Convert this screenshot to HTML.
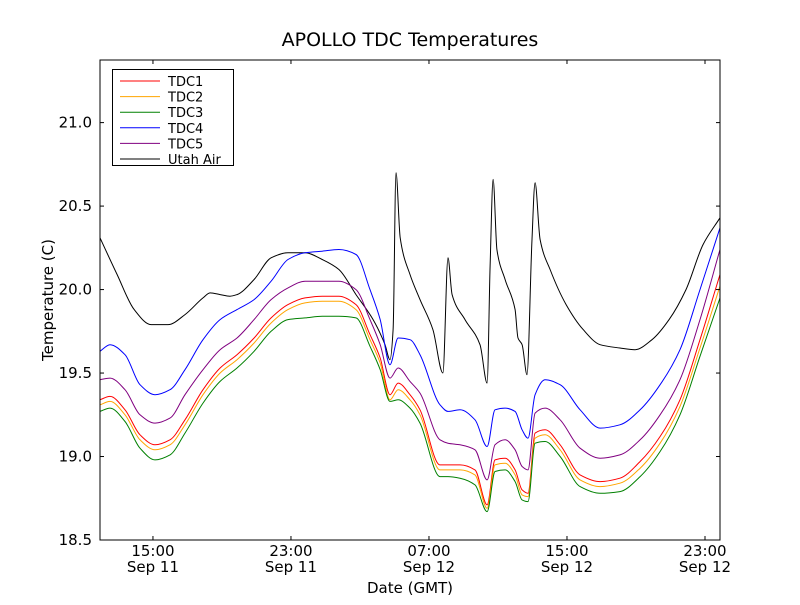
<!DOCTYPE html>
<html><head><meta charset="utf-8"><style>
body{margin:0;background:#fff;width:800px;height:600px;overflow:hidden;font-family:"Liberation Sans","DejaVu Sans",sans-serif}
</style></head><body>
<svg id="chart" width="800" height="600" xmlns="http://www.w3.org/2000/svg" font-family="DejaVu Sans, Liberation Sans, sans-serif">
<rect width="800" height="600" fill="#fff"/>
<text x="410" y="46" text-anchor="middle" font-size="19">APOLLO TDC Temperatures</text>
<text x="410" y="593" text-anchor="middle" font-size="15">Date (GMT)</text>
<text transform="translate(53,300) rotate(-90)" text-anchor="middle" font-size="15">Temperature (C)</text>
<g id="series"></g>
<g id="axes"></g>
<g id="legend"></g>
</svg>
<script>
const tdcTimes=[11.93,12.51,13.38,14.25,15.12,15.99,16.86,17.90,18.89,19.87,20.86,21.85,22.83,23.82,24.81,25.78,26.77,27.58,28.17,28.74,29.21,29.90,30.48,31.64,32.10,32.80,33.67,34.37,34.83,35.41,35.99,36.40,36.74,37.15,37.73,38.60,39.76,40.92,42.07,43.24,44.40,45.55,46.71,47.87];
const tdc1=[19.34,19.36,19.28,19.13,19.07,19.10,19.22,19.40,19.53,19.61,19.71,19.83,19.91,19.95,19.96,19.96,19.91,19.73,19.59,19.37,19.44,19.37,19.28,18.95,18.95,18.95,18.92,18.71,18.98,18.99,18.92,18.80,18.78,19.14,19.16,19.07,18.89,18.85,18.87,18.97,19.12,19.34,19.70,20.09];
const tdc2=[19.31,19.33,19.25,19.10,19.04,19.07,19.19,19.37,19.50,19.58,19.68,19.80,19.88,19.92,19.93,19.93,19.88,19.70,19.56,19.34,19.40,19.34,19.25,18.92,18.92,18.92,18.89,18.69,18.95,18.96,18.89,18.77,18.76,19.11,19.13,19.04,18.86,18.82,18.84,18.93,19.08,19.30,19.65,20.02];
const tdc3=[19.27,19.29,19.21,19.05,18.98,19.01,19.14,19.32,19.45,19.53,19.63,19.75,19.82,19.83,19.84,19.84,19.83,19.66,19.52,19.33,19.34,19.29,19.20,18.88,18.88,18.87,18.83,18.67,18.91,18.92,18.85,18.74,18.73,19.08,19.09,19.00,18.82,18.78,18.79,18.88,19.03,19.25,19.60,19.95];
const tdc4=[19.63,19.67,19.61,19.43,19.37,19.40,19.52,19.70,19.82,19.88,19.94,20.05,20.18,20.22,20.23,20.24,20.21,20.00,19.82,19.55,19.71,19.70,19.61,19.31,19.27,19.28,19.22,19.06,19.28,19.29,19.27,19.16,19.11,19.37,19.46,19.43,19.28,19.17,19.19,19.28,19.43,19.64,20.00,20.37];
const tdc5=[19.46,19.47,19.40,19.25,19.20,19.23,19.37,19.52,19.64,19.71,19.82,19.94,20.01,20.05,20.05,20.05,20.00,19.82,19.67,19.47,19.53,19.45,19.38,19.10,19.08,19.07,19.04,18.86,19.07,19.10,19.04,18.94,18.92,19.26,19.29,19.22,19.05,18.99,19.01,19.10,19.25,19.46,19.82,20.24];
const airTimes=[11.93,12.92,13.91,14.89,15.87,16.86,17.90,18.31,18.89,19.46,19.87,20.86,21.85,22.83,23.82,24.81,25.78,26.77,27.76,28.45,28.74,28.92,29.09,29.33,29.90,30.48,31.23,31.81,32.10,32.34,33.09,33.96,34.37,34.54,34.72,34.94,35.41,35.99,36.16,36.40,36.68,36.97,37.15,37.44,38.02,38.95,39.94,40.92,42.07,42.94,43.93,44.92,45.90,46.89,47.87];
const utahAir=[20.31,20.09,19.88,19.79,19.79,19.85,19.95,19.98,19.97,19.96,19.97,20.06,20.19,20.22,20.22,20.18,20.12,19.97,19.82,19.67,19.58,19.76,20.70,20.31,20.09,19.94,19.76,19.50,20.19,19.97,19.82,19.67,19.44,20.12,20.66,20.24,20.06,19.88,19.71,19.67,19.49,20.30,20.64,20.30,20.12,19.91,19.76,19.67,19.65,19.64,19.70,19.82,20.00,20.27,20.43];
const yTicks=[18.5,19.0,19.5,20.0,20.5,21.0];
const xTicks=[15,23,31,39,47];
const xTickTimes=["15:00","23:00","07:00","15:00","23:00"];
const xTickDates=["Sep 11","Sep 11","Sep 12","Sep 12","Sep 12"];
const seriesNames=["TDC1","TDC2","TDC3","TDC4","TDC5","Utah Air"];
const seriesColors=["#ff0000","#ffa500","#008000","#0000ff","#800080","#000000"];

const X0=100,X1=720,Y0=540,Y1=60,XMIN=11.93,XMAX=47.87,YMIN=18.5,YMAX=21.375;
const sx=t=>X0+(t-XMIN)/(XMAX-XMIN)*(X1-X0);
const sy=v=>Y0-(v-YMIN)/(YMAX-YMIN)*(Y0-Y1);
const NS="http://www.w3.org/2000/svg";
function mk(tag,attrs,parent){const e=document.createElementNS(NS,tag);for(const k in attrs)e.setAttribute(k,attrs[k]);parent.appendChild(e);return e;}
function monotonePath(xs,ys){
  const n=xs.length,d=[],m=new Array(n);
  for(let i=0;i<n-1;i++)d.push((ys[i+1]-ys[i])/(xs[i+1]-xs[i]));
  m[0]=d[0];m[n-1]=d[n-2];
  for(let i=1;i<n-1;i++){
    if(d[i-1]*d[i]<=0)m[i]=0;
    else{const h0=xs[i]-xs[i-1],h1=xs[i+1]-xs[i];m[i]=3*(h0+h1)/((2*h1+h0)/d[i-1]+(h1+2*h0)/d[i]);}
  }
  let p='M'+xs[0].toFixed(1)+' '+ys[0].toFixed(1);
  for(let i=0;i<n-1;i++){
    const h=(xs[i+1]-xs[i])/3;
    p+=' C'+(xs[i]+h).toFixed(1)+' '+(ys[i]+m[i]*h).toFixed(1)+' '+(xs[i+1]-h).toFixed(1)+' '+(ys[i+1]-m[i+1]*h).toFixed(1)+' '+xs[i+1].toFixed(1)+' '+ys[i+1].toFixed(1);
  }
  return p;
}
const sg=document.getElementById('series');
const allData=[[tdcTimes,tdc1],[tdcTimes,tdc2],[tdcTimes,tdc3],[tdcTimes,tdc4],[tdcTimes,tdc5],[airTimes,utahAir]];
const order=[5,3,4,0,1,2];
order.forEach(i=>{
  const [ts,vs]=allData[i];
  const d=monotonePath(ts.map(sx),vs.map(sy));
  const p=mk('path',{d:d,fill:'none',stroke:seriesColors[i],'stroke-width':1,'stroke-linejoin':'round'},sg);
  
  
});
const ax=document.getElementById('axes');
const frame=mk('rect',{x:X0,y:Y1,width:X1-X0,height:Y0-Y1,fill:'none',stroke:'#000','stroke-width':1},ax);


yTicks.forEach(v=>{
  const y=sy(v);
  mk('line',{x1:X0,x2:X0+4,y1:y,y2:y,stroke:'#000'},ax);
  mk('line',{x1:X1,x2:X1-4,y1:y,y2:y,stroke:'#000'},ax);
  const t=mk('text',{x:X0-8,y:y+5,'text-anchor':'end','font-size':15},ax);
  t.textContent=v.toFixed(1);
  
  
});
xTicks.forEach((h,i)=>{
  const x=sx(h);
  mk('line',{x1:x,x2:x,y1:Y0,y2:Y0-4,stroke:'#000'},ax);
  mk('line',{x1:x,x2:x,y1:Y1,y2:Y1+4,stroke:'#000'},ax);
  const t=mk('text',{x:x,y:556,'text-anchor':'middle','font-size':15},ax);
  t.textContent=xTickTimes[i];
  
  
  const t2=mk('text',{x:x,y:572,'text-anchor':'middle','font-size':15},ax);
  t2.textContent=xTickDates[i];
  
  
});
const lg=document.getElementById('legend');
mk('rect',{x:112.5,y:69.5,width:121,height:96,fill:'#fff',stroke:'#000'},lg);
seriesNames.forEach((n,i)=>{
  const y=81+i*15.6;
  const l=mk('line',{x1:120,x2:160,y1:y,y2:y,stroke:seriesColors[i]},lg);
  
  
  const t=mk('text',{x:168,y:y+5,'font-size':13},lg);
  t.textContent=n;
  
  
});
</script>
</body></html>
